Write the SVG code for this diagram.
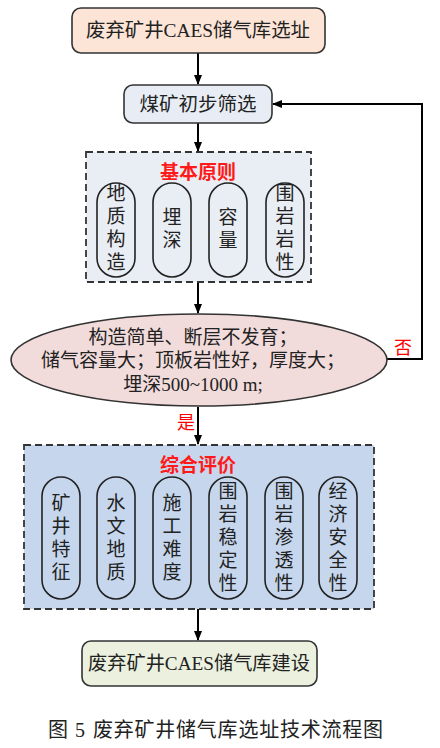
<svg xmlns="http://www.w3.org/2000/svg" width="440" height="748" viewBox="0 0 440 748">
<defs>
<marker id="arr" markerWidth="10" markerHeight="8" refX="9" refY="4" orient="auto" markerUnits="userSpaceOnUse">
<path d="M0,0 L10,4 L0,8 Z" fill="#000"/>
</marker>
<style>
text{font-family:"Liberation Serif","Noto Sans CJK SC",serif;fill:#222;}
.t18{font-size:18px;text-anchor:middle;}
.t19{font-size:19px;text-anchor:middle;}
.red{fill:#ff0000;}
.title{font-size:19px;font-weight:bold;text-anchor:middle;fill:#ff1a1a;}
.pill{fill:none;stroke:#222;stroke-width:1.6;}
.box{stroke:#333;stroke-width:1.6;}
.dash{stroke:#333;stroke-width:1.8;stroke-dasharray:7,4;}
.conn{stroke:#000;stroke-width:2;fill:none;}
</style>
</defs>
<rect width="440" height="748" fill="#fff"/>

<g id="connectors">
<line class="conn" x1="198" y1="53" x2="198" y2="84" marker-end="url(#arr)"/>
<line class="conn" x1="198" y1="123" x2="198" y2="151" marker-end="url(#arr)"/>
<line class="conn" x1="198" y1="282" x2="198" y2="313" marker-end="url(#arr)"/>
<line class="conn" x1="198" y1="407" x2="198" y2="444" marker-end="url(#arr)"/>
<line class="conn" x1="198" y1="609" x2="198" y2="640" marker-end="url(#arr)"/>
<polyline class="conn" points="386,359 422,359 422,104 273,104" marker-end="url(#arr)"/>
<text class="t18 red" x="403" y="354">否</text>
<text class="t18 red" x="186" y="429">是</text>
</g>

<g id="n-start">
<rect class="box" x="72" y="8" width="253" height="45" rx="9" fill="#fce4d6"/>
<text class="t19" x="198" y="37" textLength="224" lengthAdjust="spacingAndGlyphs">废弃矿井CAES储气库选址</text>
</g>

<g id="n-screen">
<rect class="box" x="124" y="85" width="148" height="38" rx="9" fill="#e8edf5"/>
<text class="t19" x="198" y="111" textLength="117" lengthAdjust="spacingAndGlyphs">煤矿初步筛选</text>
</g>

<g id="n-basic">
<rect class="dash" x="86" y="152" width="225" height="130" fill="#e9edf4"/>
<text class="title" x="198" y="179">基本原则</text>
<rect class="pill" x="97" y="183" width="38" height="94" rx="19"/>
<rect class="pill" x="153" y="183" width="38" height="94" rx="19"/>
<rect class="pill" x="209" y="183" width="38" height="94" rx="19"/>
<rect class="pill" x="266" y="183" width="38" height="94" rx="19"/>
<text class="t19" x="116" y="200">地</text>
<text class="t19" x="116" y="223">质</text>
<text class="t19" x="116" y="246">构</text>
<text class="t19" x="116" y="269">造</text>
<text class="t19" x="172" y="224">埋</text>
<text class="t19" x="172" y="247">深</text>
<text class="t19" x="228" y="224">容</text>
<text class="t19" x="228" y="247">量</text>
<text class="t19" x="285" y="200">围</text>
<text class="t19" x="285" y="223">岩</text>
<text class="t19" x="285" y="246">岩</text>
<text class="t19" x="285" y="269">性</text>
</g>

<g id="n-criteria">
<ellipse cx="199" cy="360" rx="188" ry="46" fill="#f2dcdb" stroke="#333" stroke-width="1.6"/>
<text class="t19" x="193" y="344">构造简单、断层不发育；</text>
<text class="t19" x="193" y="367">储气容量大；顶板岩性好，厚度大；</text>
<text class="t19" x="193" y="391">埋深500~1000 m;</text>
</g>

<g id="n-eval">
<rect class="dash" x="24" y="445" width="350" height="164" fill="#c6d7ed"/>
<text class="title" x="198" y="472">综合评价</text>
<rect class="pill" x="42" y="477" width="38" height="122" rx="19"/>
<rect class="pill" x="97" y="477" width="38" height="122" rx="19"/>
<rect class="pill" x="153" y="477" width="38" height="122" rx="19"/>
<rect class="pill" x="209" y="477" width="38" height="122" rx="19"/>
<rect class="pill" x="265" y="477" width="38" height="122" rx="19"/>
<rect class="pill" x="319" y="477" width="38" height="122" rx="19"/>
<text class="t19" x="61" y="510">矿</text>
<text class="t19" x="61" y="533">井</text>
<text class="t19" x="61" y="556">特</text>
<text class="t19" x="61" y="579">征</text>
<text class="t19" x="116" y="510">水</text>
<text class="t19" x="116" y="533">文</text>
<text class="t19" x="116" y="556">地</text>
<text class="t19" x="116" y="579">质</text>
<text class="t19" x="172" y="510">施</text>
<text class="t19" x="172" y="533">工</text>
<text class="t19" x="172" y="556">难</text>
<text class="t19" x="172" y="579">度</text>
<text class="t19" x="228" y="498">围</text>
<text class="t19" x="228" y="521">岩</text>
<text class="t19" x="228" y="544">稳</text>
<text class="t19" x="228" y="567">定</text>
<text class="t19" x="228" y="590">性</text>
<text class="t19" x="284" y="498">围</text>
<text class="t19" x="284" y="521">岩</text>
<text class="t19" x="284" y="544">渗</text>
<text class="t19" x="284" y="567">透</text>
<text class="t19" x="284" y="590">性</text>
<text class="t19" x="338" y="498">经</text>
<text class="t19" x="338" y="521">济</text>
<text class="t19" x="338" y="544">安</text>
<text class="t19" x="338" y="567">全</text>
<text class="t19" x="338" y="590">性</text>
</g>

<g id="n-build">
<rect class="box" x="82" y="641" width="235" height="45" rx="9" fill="#ebf1de"/>
<text class="t19" x="199" y="670" textLength="222" lengthAdjust="spacingAndGlyphs">废弃矿井CAES储气库建设</text>
</g>

<g id="caption">
<text x="48" y="737" style="font-size:20px">图</text>
<text x="75" y="737" style="font-size:20px">5</text>
<text x="93" y="737" style="font-size:20px" textLength="290" lengthAdjust="spacing">废弃矿井储气库选址技术流程图</text>
</g>
</svg>
